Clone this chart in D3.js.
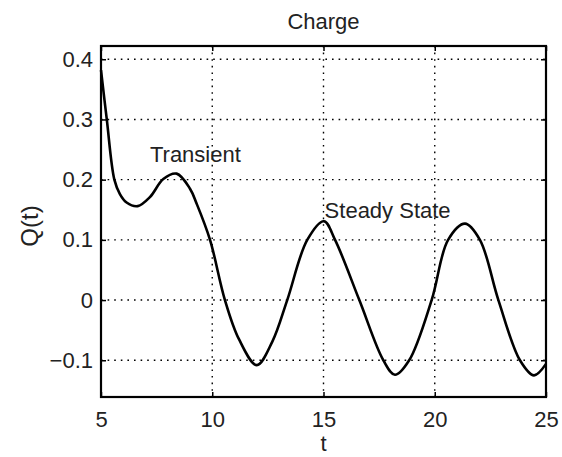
<!DOCTYPE html>
<html>
<head>
<meta charset="utf-8">
<script src="https://cdn.jsdelivr.net/npm/d3@7"></script>
<style>
  html, body { margin: 0; padding: 0; background: #fff; }
  svg text { font-family: "Liberation Sans", Arial, Helvetica, sans-serif; fill: #222; }
</style>
</head>
<body>
<svg id="chart" width="562" height="457"></svg>
<script>
// Charge Q(t) sampled along the curve
const tValues = [5.0, 5.26, 5.6, 5.85, 6.15, 6.65, 7.2, 7.8, 8.4, 9.0, 9.3, 9.9,
                 10.57, 11.2, 12.0, 12.7, 13.37, 14.27, 15.02, 15.52, 16.61, 17.69,
                 18.21, 18.85, 19.86, 20.6, 21.36, 22.03, 22.86, 23.83, 24.46, 25.0];
const qValues = [0.382, 0.300, 0.200, 0.176, 0.162, 0.156, 0.171, 0.201, 0.210, 0.185, 0.160, 0.100,
                 0.000, -0.065, -0.108, -0.069, 0.000, 0.100, 0.131, 0.100, 0.000, -0.100,
                 -0.124, -0.100, 0.000, 0.100, 0.127, 0.100, 0.000, -0.100, -0.125, -0.106];

const xTicks = [5, 10, 15, 20, 25];
const xTickLabels = ["5", "10", "15", "20", "25"];
const yTicks = [-0.1, 0, 0.1, 0.2, 0.3, 0.4];
const yTickLabels = ["\u22120.1", "0", "0.1", "0.2", "0.3", "0.4"];

const titleText = "Charge";
const xLabelText = "t";
const yLabelText = "Q(t)";
const annotations = [
  { text: "Transient", t: 7.2, q: 0.229 },
  { text: "Steady State", t: 15.05, q: 0.136 }
];

const svg = d3.select("#chart");
const margin = { left: 101, right: 16, top: 46, bottom: 60 };
const W = 562, H = 457;

const x = d3.scaleLinear().domain([5, 25]).range([margin.left, W - margin.right]);
const y = d3.scaleLinear().domain([-0.161, 0.422]).range([H - margin.bottom, margin.top]);

const x0 = x.range()[0], x1 = x.range()[1];
const y0 = y.range()[1], y1 = y.range()[0];

// dotted grid
const grid = svg.append("g").attr("stroke", "#000").attr("stroke-width", 1.4)
  .attr("stroke-dasharray", "1.6,5");
grid.selectAll("line.gx").data(xTicks.slice(1, -1)).join("line")
  .attr("x1", d => x(d)).attr("x2", d => x(d))
  .attr("y1", y0).attr("y2", y1);
grid.selectAll("line.gy").data(yTicks).join("line")
  .attr("y1", d => y(d)).attr("y2", d => y(d))
  .attr("x1", x0).attr("x2", x1);

// axes with inward ticks
const xAxis = svg.append("g").attr("transform", `translate(0,${y1})`)
  .call(d3.axisBottom(x).tickValues(xTicks).tickSize(-5).tickPadding(14)
    .tickFormat((d, i) => xTickLabels[i]));
const xAxisTop = svg.append("g").attr("transform", `translate(0,${y0})`)
  .call(d3.axisTop(x).tickValues(xTicks).tickSize(-5).tickFormat(""));
const yAxis = svg.append("g").attr("transform", `translate(${x0},0)`)
  .call(d3.axisLeft(y).tickValues(yTicks).tickSize(-5).tickPadding(8)
    .tickFormat((d, i) => yTickLabels[i]));
const yAxisRight = svg.append("g").attr("transform", `translate(${x1},0)`)
  .call(d3.axisRight(y).tickValues(yTicks).tickSize(-5).tickFormat(""));

[xAxis, xAxisTop, yAxis, yAxisRight].forEach(g => {
  g.select(".domain").remove();
  g.selectAll(".tick line").attr("stroke", "#000").attr("stroke-width", 1.5);
  g.selectAll("text").attr("font-size", 22).attr("fill", "#222");
});

// curve
const pts = tValues.map((t, i) => [t, qValues[i]]);
const line = d3.line().x(d => x(d[0])).y(d => y(d[1])).curve(d3.curveCatmullRom.alpha(0.5));
svg.append("path").datum(pts)
  .attr("fill", "none").attr("stroke", "#000").attr("stroke-width", 2.6)
  .attr("stroke-linejoin", "round").attr("d", line);

// frame
svg.append("rect").attr("x", x0).attr("y", y0)
  .attr("width", x1 - x0).attr("height", y1 - y0)
  .attr("fill", "none").attr("stroke", "#000").attr("stroke-width", 2.2);

// annotations
svg.selectAll("text.note").data(annotations).join("text")
  .attr("class", "note")
  .attr("x", d => x(d.t)).attr("y", d => y(d.q))
  .attr("font-size", 22).text(d => d.text);

// title and axis labels
svg.append("text").attr("x", (x0 + x1) / 2).attr("y", 29)
  .attr("text-anchor", "middle").attr("font-size", 22).text(titleText);
svg.append("text").attr("x", (x0 + x1) / 2).attr("y", 451)
  .attr("text-anchor", "middle").attr("font-size", 22).text(xLabelText);
svg.append("text").attr("transform", `translate(38,226) rotate(-90)`)
  .attr("text-anchor", "middle").attr("font-size", 24).text(yLabelText);
</script>
</body>
</html>
